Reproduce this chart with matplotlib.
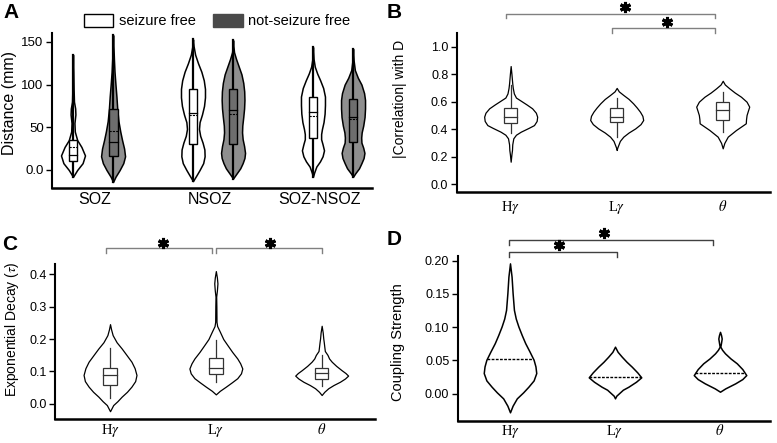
import matplotlib.pyplot as plt
import matplotlib.transforms as mtransforms
import numpy as np
from matplotlib.patches import Patch, Rectangle

plt.rcParams['font.family'] = ['Liberation Sans', 'DejaVu Sans']
plt.rcParams['mathtext.fontset'] = 'stix'

# ---------------- panel A data (distance, mm) ----------------
groups_a = ['SOZ', 'NSOZ', 'SOZ-NSOZ']
legend_a = ['seizure free', 'not-seizure free']

# violin outlines: value, relative half width
soz_sf_y = [-8, 0, 8, 17, 27, 35, 45, 55, 65, 72, 80, 95, 115, 135]
soz_sf_w = [0, 0.35, 0.8, 1.0, 0.7, 0.35, 0.15, 0.12, 0.2, 0.18, 0.08, 0.05, 0.03, 0]
soz_nsf_y = [-14, -8, 0, 8, 16, 25, 35, 45, 57, 71, 86, 100, 115, 130, 145, 158]
soz_nsf_w = [0, 0.2, 0.55, 0.85, 1.0, 0.92, 0.75, 0.6, 0.45, 0.35, 0.28, 0.2, 0.12, 0.07, 0.03, 0]
nsoz_sf_y = [-13, -6, 0, 8, 16, 24, 32, 40, 48, 56, 65, 75, 85, 95, 105, 115, 125, 135, 145, 153]
nsoz_sf_w = [0, 0.3, 0.55, 0.85, 0.97, 0.95, 0.8, 0.6, 0.5, 0.55, 0.75, 0.92, 1.0, 1.0, 0.9, 0.7, 0.42, 0.18, 0.05, 0]
nsoz_nsf_y = [-10, -4, 2, 8, 14, 20, 28, 36, 44, 52, 62, 72, 82, 92, 102, 112, 122, 130, 138, 145, 152]
nsoz_nsf_w = [0, 0.3, 0.6, 0.8, 0.95, 1.0, 0.92, 0.8, 0.75, 0.77, 0.85, 0.92, 0.95, 0.93, 0.85, 0.7, 0.45, 0.25, 0.08, 0.03, 0]
sn_sf_y = [-8, -3, 4, 10, 16, 23, 30, 36, 42, 48, 56, 66, 76, 86, 96, 105, 113, 121, 130, 144]
sn_sf_w = [0, 0.1, 0.28, 0.58, 0.8, 0.92, 0.8, 0.68, 0.68, 0.75, 0.88, 0.97, 1.0, 1.0, 0.85, 0.6, 0.35, 0.15, 0.05, 0]
sn_nsf_y = [-8, -4, 2, 8, 14, 20, 26, 32, 38, 44, 52, 62, 72, 82, 90, 100, 108, 117, 128, 142]
sn_nsf_w = [0, 0.18, 0.5, 0.7, 0.88, 0.95, 0.85, 0.7, 0.68, 0.72, 0.85, 0.96, 1.0, 1.0, 0.92, 0.7, 0.4, 0.15, 0.05, 0]

# box stats per group (SOZ, NSOZ, SOZ-NSOZ)
a_sf_q1 = [10, 31, 37.8]
a_sf_med = [17.5, 67, 67.5]
a_sf_mean = [27, 64, 63.6]
a_sf_q3 = [35, 94.5, 85]
a_nsf_q1 = [16.4, 30.5, 33]
a_nsf_med = [33, 70, 62.4]
a_nsf_mean = [46, 65.5, 60]
a_nsf_q3 = [71.4, 94.5, 83]

# ---------------- panels B-D ----------------
bands = [r'H$\gamma$', r'L$\gamma$', r'$\theta$']

# B: |correlation| with D
b_hg_y = [0.164, 0.22, 0.249, 0.29, 0.334, 0.36, 0.382, 0.41, 0.43, 0.46, 0.491, 0.52, 0.552, 0.58, 0.60, 0.63, 0.66, 0.70, 0.733, 0.80, 0.859]
b_hg_w = [0, 0.03, 0.05, 0.06, 0.1, 0.2, 0.38, 0.68, 0.88, 0.98, 1.0, 0.95, 0.81, 0.6, 0.44, 0.2, 0.12, 0.08, 0.06, 0.03, 0]
b_lg_y = [0.249, 0.265, 0.285, 0.315, 0.346, 0.376, 0.406, 0.437, 0.467, 0.497, 0.527, 0.557, 0.588, 0.62, 0.649, 0.675, 0.70]
b_lg_w = [0, 0.02, 0.06, 0.12, 0.25, 0.45, 0.7, 0.9, 1.0, 0.97, 0.88, 0.76, 0.62, 0.45, 0.25, 0.08, 0]
b_th_y = [0.261, 0.30, 0.346, 0.394, 0.443, 0.473, 0.503, 0.534, 0.564, 0.60, 0.636, 0.667, 0.697, 0.725, 0.752]
b_th_w = [0, 0.06, 0.19, 0.5, 0.87, 0.88, 0.9, 0.95, 1.0, 0.9, 0.69, 0.45, 0.25, 0.08, 0]
b_q1 = [0.443, 0.45, 0.467]
b_med = [0.491, 0.491, 0.539]
b_q3 = [0.556, 0.552, 0.595]
b_wlo = [0.37, 0.346, 0.382]
b_whi = [0.721, 0.624, 0.672]

# C: exponential decay (tau)
c_hg_y = [-0.023, -0.004, 0.008, 0.022, 0.037, 0.053, 0.07, 0.089, 0.11, 0.13, 0.15, 0.171, 0.19, 0.212, 0.23, 0.246]
c_hg_w = [0, 0.12, 0.28, 0.44, 0.64, 0.81, 0.95, 1.0, 0.93, 0.81, 0.63, 0.44, 0.25, 0.1, 0.04, 0]
c_lg_y = [0.029, 0.04, 0.053, 0.066, 0.079, 0.094, 0.109, 0.125, 0.14, 0.16, 0.181, 0.2, 0.223, 0.24, 0.253, 0.3, 0.331, 0.35, 0.372, 0.39, 0.41]
c_lg_w = [0, 0.15, 0.38, 0.6, 0.81, 0.95, 1.0, 0.92, 0.81, 0.62, 0.44, 0.28, 0.15, 0.05, 0.025, 0.02, 0.013, 0.04, 0.06, 0.04, 0]
c_th_y = [0.027, 0.037, 0.048, 0.058, 0.068, 0.078, 0.087, 0.095, 0.104, 0.117, 0.13, 0.14, 0.151, 0.163, 0.176, 0.19, 0.202, 0.22, 0.241]
c_th_w = [0, 0.1, 0.25, 0.45, 0.69, 0.88, 1.0, 0.9, 0.75, 0.55, 0.38, 0.28, 0.22, 0.12, 0.1, 0.08, 0.06, 0.04, 0]
c_q1 = [0.058, 0.091, 0.076]
c_med = [0.09, 0.109, 0.094]
c_q3 = [0.109, 0.14, 0.109]
c_wlo = [0.019, 0.066, 0.056]
c_whi = [0.171, 0.197, 0.151]

# D: coupling strength
d_hg_y = [-0.028, -0.018, -0.007, 0.002, 0.0105, 0.02, 0.031, 0.041, 0.051, 0.063, 0.076, 0.088, 0.101, 0.113, 0.126, 0.151, 0.176, 0.196]
d_hg_w = [0, 0.1, 0.26, 0.5, 0.7, 0.9, 1.0, 0.97, 0.9, 0.75, 0.58, 0.45, 0.32, 0.22, 0.15, 0.1, 0.06, 0]
d_lg_y = [-0.007, -0.003, 0.0006, 0.006, 0.0105, 0.018, 0.0246, 0.032, 0.0406, 0.048, 0.0556, 0.063, 0.0707]
d_lg_w = [0, 0.05, 0.15, 0.3, 0.51, 0.8, 1.0, 0.85, 0.64, 0.44, 0.26, 0.1, 0]
d_th_y = [0.003, 0.008, 0.0156, 0.022, 0.028, 0.037, 0.0457, 0.053, 0.0607, 0.066, 0.0707, 0.077, 0.083, 0.088, 0.093]
d_th_w = [0, 0.2, 0.58, 0.85, 1.0, 0.85, 0.64, 0.4, 0.19, 0.08, 0.013, 0.04, 0.064, 0.04, 0]
d_med = [0.0527, 0.0256, 0.0316]

W, H = 777, 443
fig = plt.figure(figsize=(7.77, 4.43), dpi=100)


def axes_px(l, t, r, b):
    return fig.add_axes([l / W, 1 - b / H, (r - l) / W, (b - t) / H])


def violin(ax, pos, ys, ws, half, face='white', lw=1.0):
    ys = np.asarray(ys)
    ws = np.asarray(ws) * half
    ax.fill_betweenx(ys, pos - ws, pos + ws, facecolor=face, edgecolor='black',
                     linewidth=lw, zorder=2)


def style(ax, ylim, xlim, yticks, ylabels, label, lsize, lx, ly):
    ax.set_ylim(*ylim)
    ax.set_xlim(*xlim)
    for s in ['top', 'right']:
        ax.spines[s].set_visible(False)
    ax.spines['left'].set_linewidth(1.5)
    ax.spines['bottom'].set_linewidth(1.8)
    ax.set_yticks(yticks)
    ax.set_yticklabels(ylabels)
    ax.tick_params(axis='y', length=4, width=1, labelsize=9, pad=2)
    ax.tick_params(axis='x', length=0)
    ax.set_ylabel(label, fontsize=lsize)
    ax.yaxis.set_label_coords(lx, ly)


def bracket(ax, x0, x1, y, drop, color, sx, sy):
    tr = mtransforms.blended_transform_factory(ax.transData, ax.transAxes)
    ax.plot([x0, x0, x1, x1], [y - drop, y, y, y - drop], color=color, lw=1.0,
            transform=tr, clip_on=False)
    ax.plot([sx], [sy], marker=(6, 2, 0), markersize=8, mew=2.2, color='black',
            transform=tr, clip_on=False)


# ---------------- A ----------------
axA = axes_px(52, 33, 372, 188)
off = 0.167
half_a = 0.1
gray = '#8f8f8f'
a_sf = [(soz_sf_y, soz_sf_w), (nsoz_sf_y, nsoz_sf_w), (sn_sf_y, sn_sf_w)]
a_nsf = [(soz_nsf_y, soz_nsf_w), (nsoz_nsf_y, nsoz_nsf_w), (sn_nsf_y, sn_nsf_w)]
bw = 0.037
for i in range(3):
    for (ys, ws), pos, face, bface, q1, med, mean, q3 in [
            (a_sf[i], i + 1 - off, 'white', 'white', a_sf_q1[i], a_sf_med[i], a_sf_mean[i], a_sf_q3[i]),
            (a_nsf[i], i + 1 + off, gray, '#6e6e6e', a_nsf_q1[i], a_nsf_med[i], a_nsf_mean[i], a_nsf_q3[i])]:
        violin(axA, pos, ys, ws, half_a, face, lw=1.1)
        axA.plot([pos, pos], [min(ys), max(ys)], color='black', lw=1.6, zorder=3)
        axA.add_patch(Rectangle((pos - bw, q1), 2 * bw, q3 - q1, facecolor=bface,
                                edgecolor='black', lw=1.0, zorder=4))
        axA.plot([pos - bw, pos + bw], [med, med], color='black', lw=0.9, zorder=5)
        axA.plot([pos - bw, pos + bw], [mean, mean], color='black', lw=0.8, ls=(0, (2, 1)), zorder=5)
style(axA, (-21.1, 160.4), (0.658, 3.325), [0, 50, 100, 150], ['0.0', '50', '100', '150'],
      'Distance (mm)', 11.5, -0.11, 0.55)
axA.tick_params(axis='y', labelsize=9.5)
axA.set_xticks([1.01, 1.97, 2.89])
axA.set_xticklabels(groups_a, fontsize=11.5)
axA.tick_params(axis='x', pad=3)
handles = [Patch(facecolor='white', edgecolor='black', lw=1.0),
           Patch(facecolor='#4a4a4a', edgecolor='#4a4a4a')]
fig.legend(handles, legend_a, loc='center left', bbox_to_anchor=(84 / W, 1 - 21 / H),
           ncol=2, frameon=False, fontsize=10.5, handlelength=2.0, handleheight=1.0,
           handletextpad=0.4, columnspacing=1.2, borderpad=0, borderaxespad=0)

# ---------------- B, C, D ----------------
serif = {'family': ['Liberation Serif', 'DejaVu Serif'], 'size': 10.5}


def box(ax, pos, q1, med, q3, wlo, whi, bwid):
    c = '#333333'
    ax.plot([pos, pos], [wlo, q1], color=c, lw=0.9, zorder=3)
    ax.plot([pos, pos], [q3, whi], color=c, lw=0.9, zorder=3)
    ax.add_patch(Rectangle((pos - bwid, q1), 2 * bwid, q3 - q1, facecolor='white',
                           edgecolor=c, lw=0.9, zorder=4))
    ax.plot([pos - bwid, pos + bwid], [med, med], color=c, lw=0.9, zorder=5)


axB = axes_px(456.7, 33.3, 770, 191.7)
for i, (ys, ws) in enumerate([(b_hg_y, b_hg_w), (b_lg_y, b_lg_w), (b_th_y, b_th_w)]):
    violin(axB, i + 1, ys, ws, 0.25, lw=0.9)
    box(axB, i + 1, b_q1[i], b_med[i], b_q3[i], b_wlo[i], b_whi[i], 0.06)
style(axB, (-0.054, 1.097), (0.491, 3.446), np.arange(0, 1.01, 0.2),
      ['0.0', '0.2', '0.4', '0.6', '0.8', '1.0'], '|Correlation| with D', 10, -0.159, 0.585)
axB.set_xticks([1, 2, 3])
axB.set_xticklabels(bands, fontdict=serif)
axB.tick_params(axis='x', pad=5)
bracket(axB, 0.956, 2.93, 1.122, 0.025, '#808080', 2.08, 1.165)
bracket(axB, 1.953, 2.93, 1.032, 0.03, '#808080', 2.47, 1.07)

axC = axes_px(55, 264.3, 375, 419.3)
for i, (ys, ws) in enumerate([(c_hg_y, c_hg_w), (c_lg_y, c_lg_w), (c_th_y, c_th_w)]):
    violin(axC, i + 1, ys, ws, 0.25, lw=0.9)
    box(axC, i + 1, c_q1[i], c_med[i], c_q3[i], c_wlo[i], c_whi[i], 0.063)
style(axC, (-0.048, 0.431), (0.48, 3.504), np.arange(0, 0.41, 0.1),
      ['0.0', '0.1', '0.2', '0.3', '0.4'], r'Exponential Decay ($\tau$)', 10, -0.105, 0.58)
axC.set_xticks([1, 2, 3])
axC.set_xticklabels(bands, fontdict=serif)
axC.tick_params(axis='x', pad=2)
bracket(axC, 0.959, 1.967, 1.103, 0.032, '#808080', 1.50, 1.14)
bracket(axC, 1.999, 3.006, 1.103, 0.032, '#808080', 2.51, 1.14)

axD = axes_px(457.7, 256, 770, 420.7)
for i, (ys, ws) in enumerate([(d_hg_y, d_hg_w), (d_lg_y, d_lg_w), (d_th_y, d_th_w)]):
    violin(axD, i + 1, ys, ws, 0.25, lw=1.1)
    hw = np.interp(d_med[i], ys, ws) * 0.25
    axD.plot([i + 1 - hw, i + 1 + hw], [d_med[i]] * 2, color='black', lw=1.0,
             ls=(0, (2, 1)), zorder=3)
style(axD, (-0.0406, 0.2071), (0.502, 3.476), np.arange(0, 0.201, 0.05),
      ['0.00', '0.05', '0.10', '0.15', '0.20'], 'Coupling Strength', 10.5, -0.169, 0.478)
axD.set_xticks([1, 2, 3])
axD.set_xticklabels(bands, fontdict=serif)
axD.tick_params(axis='x', pad=2)
bracket(axD, 0.993, 2.93, 1.097, 0.03, '#404040', 1.895, 1.14)
bracket(axD, 0.993, 2.02, 1.026, 0.03, '#404040', 1.47, 1.067)

# panel letters
for txt, x, y in [('A', 3, 3), ('B', 387, 3), ('C', 2, 235), ('D', 387, 230)]:
    fig.text(x / W, 1 - y / H, txt, fontsize=15, fontweight='bold', va='top', ha='left')

fig.savefig('out.png', dpi=100)
